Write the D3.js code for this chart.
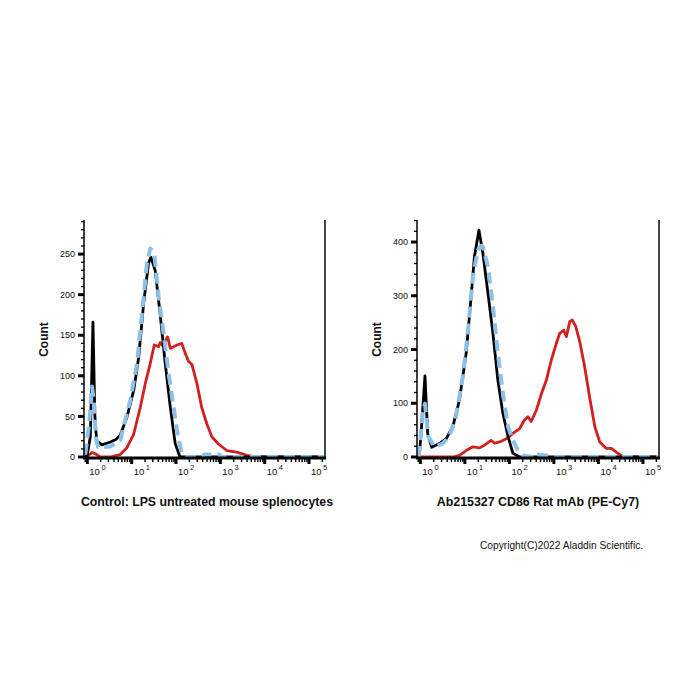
<!DOCTYPE html>
<html>
<head>
<meta charset="utf-8">
<script src="https://cdn.jsdelivr.net/npm/d3@7"></script>
<style>
  html, body { margin: 0; padding: 0; background: #fff; }
  svg { display: block; font-family: "Liberation Sans", Arial, sans-serif; }
</style>
</head>
<body>
<svg id="chart" width="700" height="700"></svg>
<script>
// ---------- DATA ----------
// x = fluorescence intensity, y = count
const controlBlackX = [0.90, 1.0, 1.17, 1.34, 1.48, 1.62, 2.14, 3.31, 4.5, 5.53, 7.82, 11.1, 14.4, 18.6, 24.0, 27.2, 33.9, 43.7, 57.1, 74.1, 95.5, 123, 229000];
const controlBlackY = [0, 3, 25, 166, 50, 20, 15, 18.5, 22, 27, 49, 82, 123, 189, 239, 246, 230, 177, 115, 62, 17, 0, 0];

const controlBlueX = [0.90, 1.10, 1.27, 1.40, 1.55, 1.75, 2.14, 3.31, 5.53, 9.3, 13.2, 17.1, 22.1, 26.3, 32.3, 40.5, 52.5, 68, 88, 105, 135, 170, 400, 430, 950, 1000, 229000];
const controlBlueY = [3, 40, 87, 70, 25, 12, 12, 13, 21, 70, 115, 177, 239, 257, 251, 198, 152, 103, 62, 33, 4, 0, 0, 3, 3, 0, 0];

const controlRedX = [0.86, 0.98, 1.27, 1.51, 1.95, 3.31, 5.53, 7.8, 11.1, 15.6, 20.2, 26.2, 32.3, 40.4, 44, 48.1, 56, 64.6, 74.1, 90, 105, 135, 161, 191, 228, 295, 380, 495, 643, 908, 1400, 2345, 3950, 6600, 229000];
const controlRedY = [0, 0, 5.5, 4, 0, 0, 3, 11.5, 28, 61, 90, 115, 138, 136, 141, 138, 142, 148, 134, 136, 138, 140, 128, 118, 114, 91, 61, 41, 25, 16, 8, 6, 2, 0, 0];

const cd86BlackX = [0.87, 0.95, 1.04, 1.27, 1.46, 1.80, 2.69, 3.80, 5.35, 7.55, 10.7, 13.8, 16.4, 20.7, 25.4, 33.1, 42.7, 55.0, 71.6, 93.3, 120, 170, 229000];
const cd86BlackY = [0, 5, 44, 151, 44, 18, 25, 34, 56, 106, 193, 298, 373, 422, 379, 304, 230, 143, 81, 38, 7, 0, 0];

const cd86BlueX = [0.92, 1.13, 1.27, 1.51, 2.07, 3.16, 4.47, 6.31, 8.97, 11.6, 15.1, 19.5, 23.2, 25.4, 33.1, 42.7, 55.0, 71.6, 93.3, 120, 155, 200, 339, 369, 676, 871, 229000];
const cd86BlueY = [0, 81, 99, 38, 19, 25, 38, 75, 149, 230, 335, 385, 393, 391, 354, 280, 193, 118, 56, 31, 13, 3, 0, 5, 3, 0, 0];

const cd86RedX = [0.87, 5.37, 7.55, 10.7, 15.1, 21.4, 27.5, 38.9, 46.5, 60.3, 85.1, 120, 170, 219, 260, 309, 403, 525, 676, 879, 1140, 1349, 1660, 1905, 2270, 2570, 3090, 3800, 4900, 6310, 8320, 10700, 15100, 19500, 25100, 36300, 229000];
const cd86RedY = [0, 0, 3, 12, 19, 17, 22, 31, 26, 28, 34, 44, 53, 69, 75, 66, 87, 118, 143, 181, 212, 230, 236, 224, 252, 255, 243, 215, 168, 112, 56, 28, 16, 16, 9, 0, 0];

const xDecades = [1, 10, 100, 1000, 10000, 100000];
const xDecadeExp = ["0", "1", "2", "3", "4", "5"];
const controlYTicks = [0, 50, 100, 150, 200, 250];
const cd86YTicks = [0, 100, 200, 300, 400];

const panelTitles = ["Control: LPS untreated mouse splenocytes", "Ab215327 CD86 Rat mAb (PE-Cy7)"];
const yAxisTitle = "Count";
const copyrightText = "Copyright(C)2022 Aladdin Scientific.";

// ---------- DRAW ----------
const svg = d3.select("#chart");
const X_DOMAIN = [Math.pow(10, -0.075), Math.pow(10, 5.36)];

function drawPanel(opt) {
  const g = svg.append("g");
  const x = d3.scaleLog().domain(X_DOMAIN).range([opt.x0, opt.x1]);
  const y = d3.scaleLinear().domain([0, opt.yMax]).range([opt.yBase, opt.yTop]);

  const line = d3.line().x(d => x(d[0])).y(d => y(d[1])).curve(d3.curveLinear);
  const series = (xs, ys) => xs.map((v, i) => [v, ys[i]]);

  // curves
  g.append("path").attr("d", line(series(opt.redX, opt.redY)))
    .attr("fill", "none").attr("stroke", "#d21f1f").attr("stroke-width", 2.8).attr("stroke-linejoin", "round");
  g.append("path").attr("d", line(series(opt.blackX, opt.blackY)))
    .attr("fill", "none").attr("stroke", "#000").attr("stroke-width", 2.8).attr("stroke-linejoin", "round");
  g.append("path").attr("d", line(series(opt.blueX, opt.blueY)))
    .attr("fill", "none").attr("stroke", "#8cc0e8").attr("stroke-width", 4)
    .attr("stroke-dasharray", "11,6").attr("stroke-linejoin", "round");

  // frame: left axis, right border, bottom axis
  g.append("line").attr("x1", opt.x0).attr("x2", opt.x0).attr("y1", opt.yTop).attr("y2", opt.yBase + 1)
    .attr("stroke", "#111").attr("stroke-width", 1.6);
  g.append("line").attr("x1", opt.x1).attr("x2", opt.x1).attr("y1", opt.yTop).attr("y2", opt.yBase + 1)
    .attr("stroke", "#333").attr("stroke-width", 1.8);
  g.append("line").attr("x1", opt.x0 - 1).attr("x2", opt.x1 + 1).attr("y1", opt.yBase + 1).attr("y2", opt.yBase + 1)
    .attr("stroke", "#000").attr("stroke-width", 3);

  // y ticks
  const yMinor = d3.range(0, opt.yMax + 0.001, opt.yMinorStep);
  g.selectAll(".ymin").data(yMinor).join("line")
    .attr("x1", opt.x0).attr("x2", opt.x0 - 3)
    .attr("y1", d => y(d)).attr("y2", d => y(d))
    .attr("stroke", "#000").attr("stroke-width", 1.3);
  g.selectAll(".ymaj").data(opt.yTicks).join("line")
    .attr("x1", opt.x0).attr("x2", opt.x0 - 6)
    .attr("y1", d => y(d)).attr("y2", d => y(d))
    .attr("stroke", "#000").attr("stroke-width", 3);
  g.selectAll(".ylab").data(opt.yTicks).join("text")
    .attr("x", opt.x0 - 9).attr("y", d => y(d) + 3.2)
    .attr("text-anchor", "end").attr("font-size", 9).attr("fill", "#111")
    .text(d => d);

  // x ticks
  const minor = [];
  xDecades.forEach(dv => { for (let k = 2; k <= 9; k++) { if (dv * k <= X_DOMAIN[1]) minor.push(dv * k); } });
  minor.push(0.9);
  g.selectAll(".xmin").data(minor).join("line")
    .attr("x1", d => x(d)).attr("x2", d => x(d))
    .attr("y1", opt.yBase + 2).attr("y2", opt.yBase + 5)
    .attr("stroke", "#000").attr("stroke-width", 1.4);
  g.selectAll(".xmaj").data(xDecades).join("line")
    .attr("x1", d => x(d)).attr("x2", d => x(d))
    .attr("y1", opt.yBase + 2).attr("y2", opt.yBase + 7)
    .attr("stroke", "#000").attr("stroke-width", 3);
  const xl = g.selectAll(".xlab").data(xDecades).join("text")
    .attr("x", d => x(d) + 2).attr("y", opt.yBase + 18)
    .attr("font-size", 9.5).attr("fill", "#111");
  xl.append("tspan").text("10");
  xl.append("tspan").attr("dx", 1.5).attr("dy", -5).attr("font-size", 7.5).text((d, i) => xDecadeExp[i]);

  // axis title
  g.append("text")
    .attr("transform", `translate(${opt.x0 - 36},${(opt.yTop + opt.yBase) / 2 + 1}) rotate(-90)`)
    .attr("text-anchor", "middle").attr("font-size", 12).attr("font-weight", "bold").attr("fill", "#111")
    .text(yAxisTitle);

  // panel title
  g.append("text").attr("x", opt.titleX).attr("y", 506)
    .attr("text-anchor", "middle").attr("font-size", opt.titleSize).attr("font-weight", "bold").attr("fill", "#111")
    .text(opt.title);
}

drawPanel({
  x0: 84, x1: 325, yTop: 220, yBase: 457, yMax: 292, yMinorStep: 10, yTicks: controlYTicks,
  blackX: controlBlackX, blackY: controlBlackY, blueX: controlBlueX, blueY: controlBlueY,
  redX: controlRedX, redY: controlRedY, title: panelTitles[0], titleX: 207, titleSize: 12.3
});
drawPanel({
  x0: 417, x1: 659, yTop: 220, yBase: 457, yMax: 441, yMinorStep: 20, yTicks: cd86YTicks,
  blackX: cd86BlackX, blackY: cd86BlackY, blueX: cd86BlueX, blueY: cd86BlueY,
  redX: cd86RedX, redY: cd86RedY, title: panelTitles[1], titleX: 538, titleSize: 12.4
});

svg.append("text").attr("x", 480).attr("y", 549)
  .attr("font-size", 10.2).attr("fill", "#111").text(copyrightText);
</script>
</body>
</html>
